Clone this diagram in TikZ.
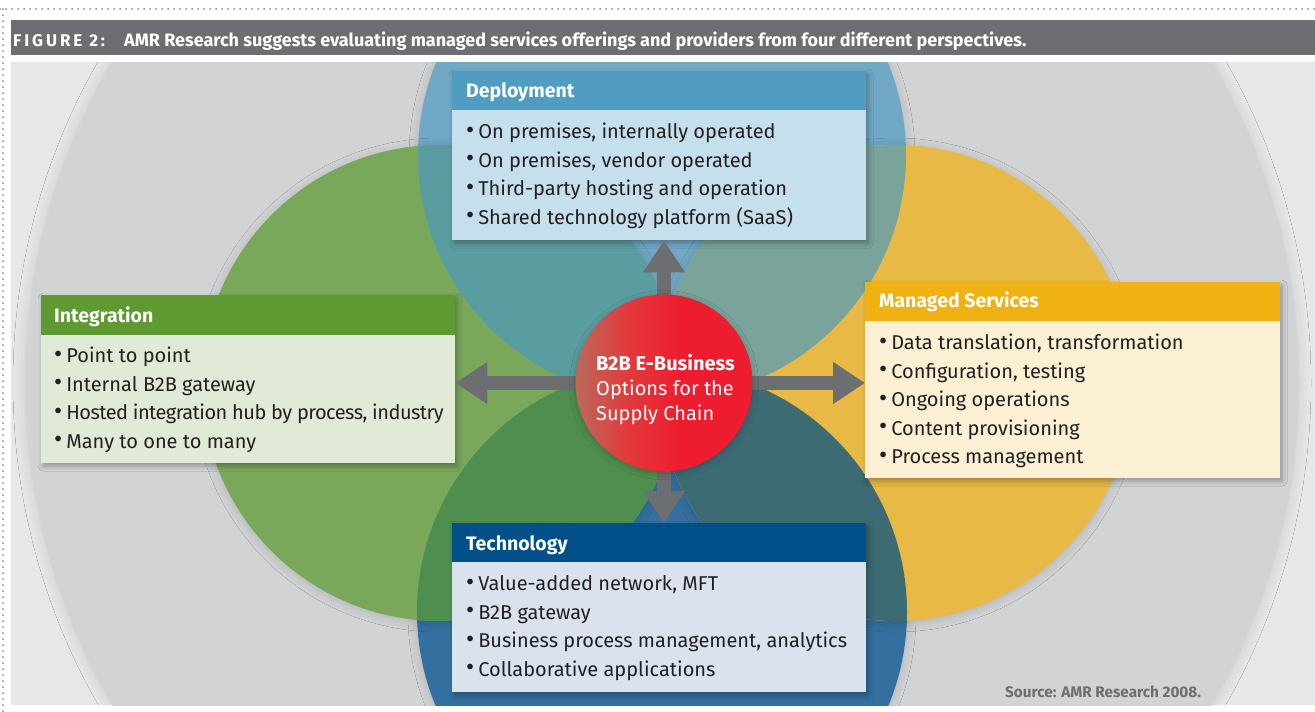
\documentclass[tikz,border=0pt]{standalone}
\usepackage{fontspec}
\setmainfont{Fira Sans}
\usetikzlibrary{arrows.meta,calc,shadows.blur}
\definecolor{panelbg}{HTML}{E6E7E8}
\definecolor{bigc}{HTML}{D1D3D4}
\definecolor{titlegray}{HTML}{6D6E71}
\definecolor{dotgray}{HTML}{8A8B8D}
\definecolor{blueC}{HTML}{70A8C5}
\definecolor{dblueC}{HTML}{33709F}
\definecolor{greenC}{HTML}{79A85B}
\definecolor{yellowC}{HTML}{E8B944}
\definecolor{bgC}{HTML}{5A9DA0}
\definecolor{byC}{HTML}{79A39B}
\definecolor{dgC}{HTML}{4E8F4F}
\definecolor{dyC}{HTML}{3D6B74}
\definecolor{bdC}{HTML}{4A86B0}
\definecolor{depH}{HTML}{519DC1}
\definecolor{depB}{HTML}{C5DFEC}
\definecolor{intH}{HTML}{5E9A31}
\definecolor{intB}{HTML}{E1EAD7}
\definecolor{manH}{HTML}{F0B213}
\definecolor{manB}{HTML}{FBEFD4}
\definecolor{tecH}{HTML}{02508A}
\definecolor{tecB}{HTML}{DAE2EE}
\definecolor{arrgray}{HTML}{6D6E71}
\definecolor{textdark}{HTML}{231F20}
\definecolor{hubL}{HTML}{BC6A5C}
\definecolor{hubM}{HTML}{E2393A}
\definecolor{hubR}{HTML}{ED1C2E}
\pgfdeclarehorizontalshading{hubshade}{100bp}{color(0bp)=(hubL); color(25bp)=(hubL); color(40bp)=(hubM); color(55bp)=(hubR); color(100bp)=(hubR)}
\newcommand{\itembul}{\raisebox{0.5pt}{\fontsize{25pt}{24pt}\selectfont •}\hspace{4pt}}
\begin{document}
\begin{tikzpicture}[x=1pt,y=-1pt,
  boxsty/.style={rectangle, inner sep=0pt, anchor=north west,
    blur shadow={shadow xshift=2pt, shadow yshift=-3pt, shadow blur radius=5pt, shadow opacity=30}},
  circsh/.style={blur shadow={shadow xshift=0pt, shadow yshift=-2pt, shadow blur radius=9pt, shadow opacity=16}},
  headtxt/.style={anchor=base west, inner sep=0pt, text=white, font=\fontsize{19.5pt}{22pt}\selectfont\bfseries},
  itemtxt/.style={anchor=base west, inner sep=0pt, text=textdark, font=\fontsize{20pt}{24pt}\selectfont},
  hubtxt/.style={anchor=base west, inner sep=0pt, text=white, font=\fontsize{20pt}{22pt}\selectfont},
  arr/.style={draw=arrgray, line width=14pt, -{Triangle[width=40pt,length=32pt]}},
  dots/.style={draw=dotgray, line width=2pt, line cap=round, dash pattern=on 0pt off 6pt}]
\useasboundingbox (0,0) rectangle (1315,712);
\fill[white] (0,0) rectangle (1315,712);
% dotted frame
\draw[dots] (0,9) -- (1315,9);
\draw[dots] (3,9) -- (3,712);
% title bar
\fill[titlegray] (11,20) rectangle (1315,55);
\node[anchor=base west, inner sep=0pt, text=white, font=\fontsize{17pt}{18pt}\selectfont\bfseries\addfontfeatures{LetterSpace=17}] (figlbl) at (13,46) {FIGURE 2:};
\node[anchor=base west, inner sep=0pt, text=white, font=\fontsize{18pt}{22pt}\selectfont\bfseries] (title) at (124,46) {AMR Research suggests evaluating managed services offerings and providers from four different perspectives.};
% panel and circles
\begin{scope}
  \clip (11,62) rectangle (1315,705);
  \fill[panelbg] (11,62) rectangle (1315,705);
  \fill[bigc, blur shadow={shadow xshift=0pt, shadow yshift=0pt, shadow blur radius=12pt, shadow opacity=12}] (662,383) circle[radius=637pt];
  \fill[blueC, circsh] (662,155) circle[radius=244pt];
  \fill[dblueC, circsh] (662,612) circle[radius=245pt];
  \begin{scope}
    \clip (662,155) circle[radius=244pt];
    \fill[bdC] (662,612) circle[radius=245pt];
  \end{scope}
  \fill[greenC, circsh] (440,383) circle[radius=238pt];
  \fill[yellowC, circsh] (895,383) circle[radius=238pt];
  \begin{scope}
    \clip (662,155) circle[radius=244pt];
    \fill[bgC] (440,383) circle[radius=238pt];
    \fill[byC] (895,383) circle[radius=238pt];
  \end{scope}
  \begin{scope}
    \clip (662,612) circle[radius=245pt];
    \fill[dgC] (440,383) circle[radius=238pt];
    \fill[dyC] (895,383) circle[radius=238pt];
  \end{scope}
\end{scope}
% boxes
\node[boxsty, fill=depB, minimum width=414pt, minimum height=169pt] (dep) at (452,71) {};
\fill[depH] (dep.north west) rectangle ($(dep.north east)+(0,39)$);
\node[headtxt] (dep-h) at ($(dep.north west)+(14,26)$) {Deployment};
\foreach \t [count=\i] in {{On premises, internally operated},{On premises, vendor operated},{Third-party hosting and operation},{Shared technology platform (SaaS)}}
  \node[itemtxt] (dep-\i) at ($(dep.north west)+(14,{67.5+28.5*(\i-1)})$) {\itembul\t};

\node[boxsty, fill=intB, minimum width=414pt, minimum height=168pt] (integ) at (41,295) {};
\fill[intH] (integ.north west) rectangle ($(integ.north east)+(0,40)$);
\node[headtxt] (integ-h) at ($(integ.north west)+(13,27)$) {Integration};
\foreach \t [count=\i] in {{Point to point},{Internal B2B gateway},{{\addfontfeatures{LetterSpace=-2.6}Hosted integration hub by process, industry}},{Many to one to many}}
  \node[itemtxt] (integ-\i) at ($(integ.north west)+(13,{67.5+28.5*(\i-1)})$) {\itembul\t};

\node[boxsty, fill=manB, minimum width=415pt, minimum height=196pt] (man) at (865,282) {};
\fill[manH] (man.north west) rectangle ($(man.north east)+(0,39)$);
\node[headtxt] (man-h) at ($(man.north west)+(14,25)$) {Managed Services};
\foreach \t [count=\i] in {{Data translation, transformation},{Configuration, testing},{Ongoing operations},{Content provisioning},{Process management}}
  \node[itemtxt] (man-\i) at ($(man.north west)+(14,{67.5+28.5*(\i-1)})$) {\itembul\t};

\node[boxsty, fill=tecB, minimum width=414pt, minimum height=169pt] (tech) at (452,523) {};
\fill[tecH] (tech.north west) rectangle ($(tech.north east)+(0,39)$);
\node[headtxt] (tech-h) at ($(tech.north west)+(14,27)$) {Technology};
\foreach \t [count=\i] in {{Value-added network, MFT},{B2B gateway},{Business process management, analytics},{Collaborative applications}}
  \node[itemtxt] (tech-\i) at ($(tech.north west)+(14,{67.5+28.5*(\i-1)})$) {\itembul\t};

% arrows
\coordinate (hubc) at (664,383);
\draw[arr] (hubc) -- (hubc -| integ.east);
\draw[arr] (hubc) -- (hubc -| man.west);
\draw[arr] (hubc) -- (hubc |- dep.south);
\draw[arr] (hubc) -- (hubc |- tech.north);
% hub
\node[circle, inner sep=0pt, minimum size=177pt, shading=hubshade, blur shadow={shadow xshift=0pt, shadow yshift=-2pt, shadow blur radius=6pt, shadow opacity=24}] (hub) at (hubc) {};
\node[hubtxt, font=\fontsize{20pt}{22pt}\selectfont\bfseries] (hub-1) at (596,370) {B2B E-Business};
\node[hubtxt] (hub-2) at (596,395) {Options for the};
\node[hubtxt] (hub-3) at (596,420) {Supply Chain};
% source
\node[anchor=base west, inner sep=0pt, text=titlegray, font=\fontsize{15.3pt}{18pt}\selectfont\bfseries] (src) at (1005,697) {Source: AMR Research 2008.};
\end{tikzpicture}
\end{document}
